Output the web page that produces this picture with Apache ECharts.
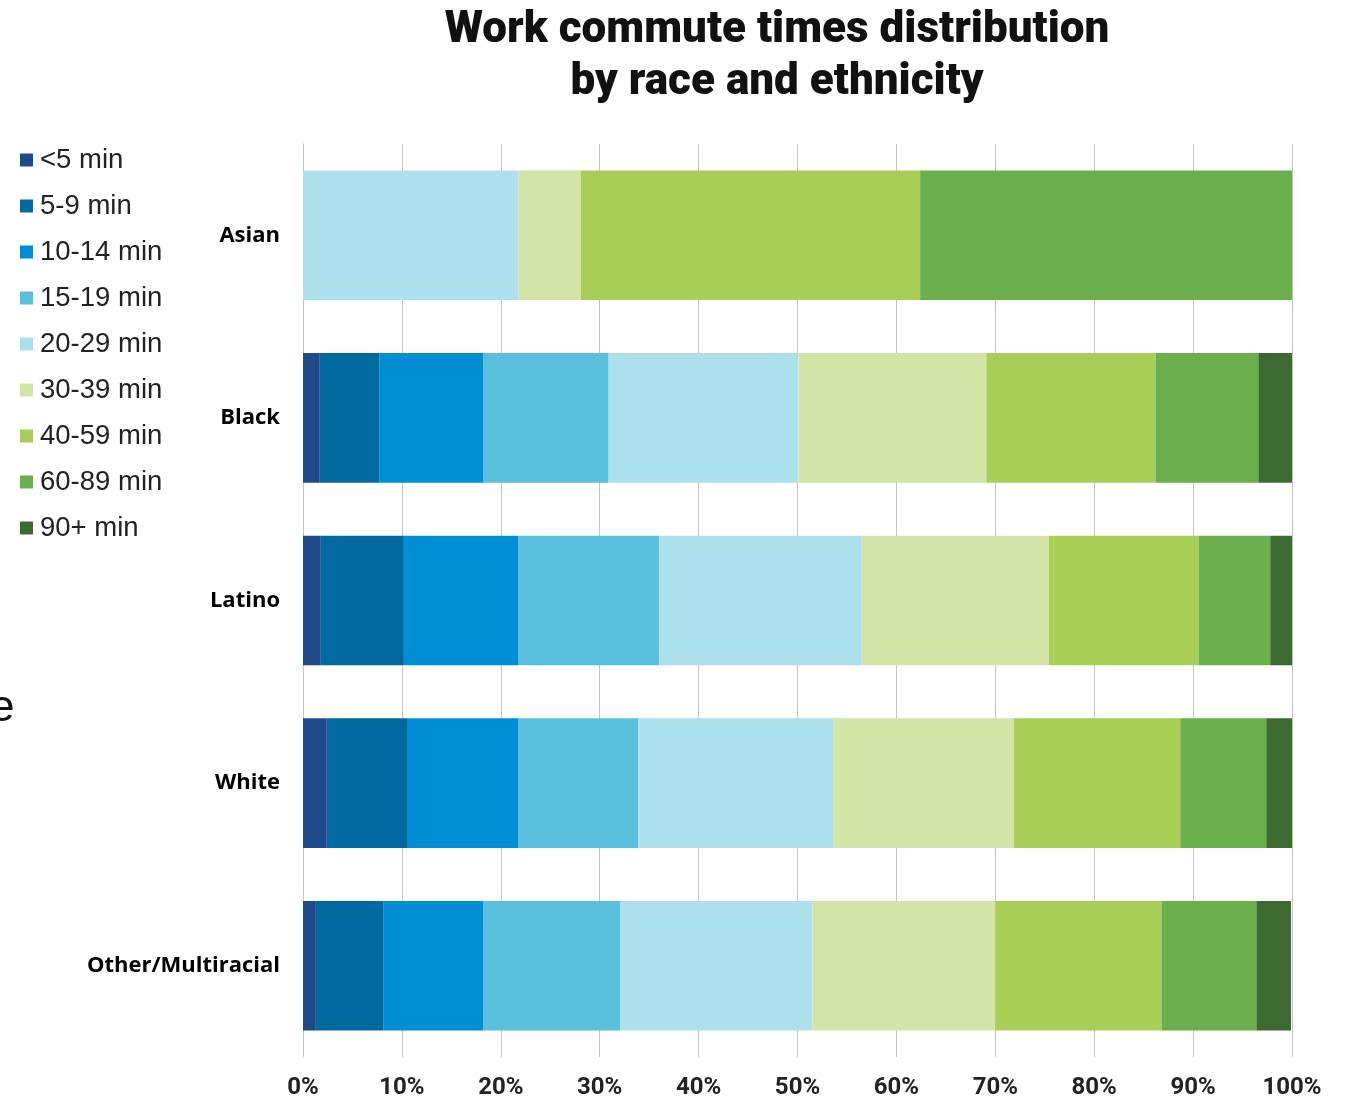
<!DOCTYPE html>
<html>
<head>
<meta charset="utf-8">
<script src="https://cdn.jsdelivr.net/npm/echarts@6/dist/echarts.min.js"></script>
<style>
html,body{margin:0;padding:0;background:#fff;}
#main{width:1347px;height:1100px;}
</style>
</head>
<body>
<div id="main"></div>
<script>
const categories = ['Asian', 'Black', 'Latino', 'White', 'Other/Multiracial'];
const seriesNames = ['<5 min', '5-9 min', '10-14 min', '15-19 min', '20-29 min', '30-39 min', '40-59 min', '60-89 min', '90+ min'];
const lt5 =   [0,    1.7, 1.8, 2.4, 1.3];
const m5_9 =  [0,    6.0, 8.4, 8.2, 6.8];
const m10_14 =[0,   10.5, 11.6, 11.2, 10.1];
const m15_19 =[0,   12.7, 14.2, 12.1, 13.9];
const m20_29 =[21.8, 19.2, 20.5, 19.7, 19.4];
const m30_39 =[6.3, 19.0, 18.9, 18.3, 18.5];
const m40_59 =[34.3, 17.1, 15.2, 16.8, 16.8];
const m60_89 =[37.6, 10.4, 7.2, 8.7, 9.6];
const m90p =  [0,    3.4, 2.2, 2.6, 3.5];
const xTicks = [0, 10, 20, 30, 40, 50, 60, 70, 80, 90, 100];
const colors = ['#1f4a8a', '#00699f', '#008fd5', '#59bfdd', '#ade0ed', '#d2e5a6', '#a8ce58', '#6baf4d', '#3d6a30'];
const values = [lt5, m5_9, m10_14, m15_19, m20_29, m30_39, m40_59, m60_89, m90p];

const chart = echarts.init(document.getElementById('main'), null, {renderer: 'canvas'});
chart.setOption({
  animation: false,
  backgroundColor: '#fff',
  title: {
    text: 'Work commute times distribution\nby race and ethnicity',
    left: 772, top: 0, textAlign: 'center',
    textStyle: {fontFamily: 'Roboto', fontWeight: 900, fontSize: 44, lineHeight: 52, color: '#111'}
  },
  legend: {
    orient: 'vertical', left: 15, top: 141,
    itemWidth: 13, itemHeight: 13, itemGap: 18,
    icon: 'rect',
    data: seriesNames,
    textStyle: {fontFamily: 'Liberation Sans', fontSize: 27.5, color: '#222', padding: [0,0,0,2]}
  },
  grid: {left: 303, right: 55, top: 144, bottom: 43, containLabel: false},
  xAxis: {
    type: 'value', min: 0, max: 100, interval: 10,
    axisLine: {show: false}, axisTick: {show: false},
    splitLine: {show: true, lineStyle: {color: '#c4c4c4', width: 1}},
    axisLabel: {formatter: v => v + '%', margin: 19, fontFamily: 'Roboto', fontWeight: 'bold', fontSize: 24, color: '#222'}
  },
  yAxis: {
    type: 'category', data: categories, inverse: true,
    axisLine: {show: true, lineStyle: {color: '#c4c4c4'}}, axisTick: {show: false},
    axisLabel: {margin: 23, fontFamily: 'Open Sans', fontWeight: 'bold', fontSize: 22, color: '#000'}
  },
  graphic: [{type: 'text', left: -10, top: 687, style: {text: 'e', fontFamily: 'Liberation Sans', fontSize: 44, fill: '#111'}}],
  series: seriesNames.map((n, i) => ({
    name: n, type: 'bar', stack: 'total', barCategoryGap: '29%',
    itemStyle: {color: colors[i]},
    data: values[i]
  }))
});
</script>
</body>
</html>
